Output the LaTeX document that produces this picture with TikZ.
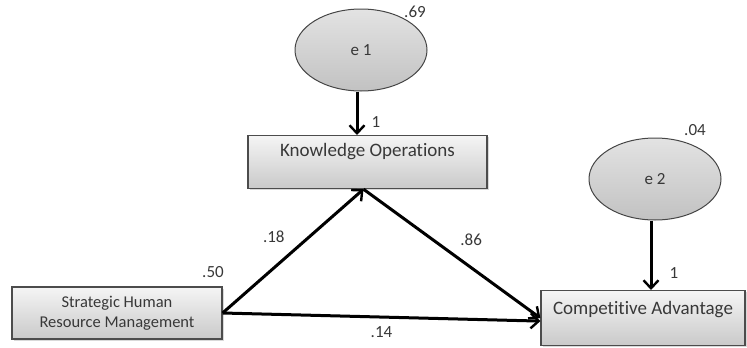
\documentclass[tikz,border=0pt]{standalone}
\usepackage{fontspec}
\setmainfont{Carlito}[Ligatures=CommonOff]
\usetikzlibrary{arrows.meta,shadows,shapes.geometric}
\definecolor{mytext}{rgb}{0.22,0.22,0.22}
\tikzset{
  varbox/.style={draw=gray!60!black, line width=1.2pt, top color=gray!8, bottom color=gray!42,
    inner sep=0pt, align=center, font=\fontsize{19}{20}\selectfont, text=mytext,
    drop shadow={shadow xshift=1.5pt, shadow yshift=-1.5pt, opacity=0.3}},
  errcircle/.style={ellipse, draw=gray!55!black, line width=1pt, top color=gray!22, bottom color=gray!48,
    minimum width=132pt, minimum height=82pt, inner sep=0pt, font=\fontsize{17}{18}\selectfont, text=mytext},
  pathline/.style={line width=3pt, -{Straight Barb[length=8pt,width=15pt,line width=2.4pt]}},
  coef/.style={font=\fontsize{17}{18}\selectfont, text=mytext, inner sep=1pt}
}
\begin{document}
\begin{tikzpicture}[x=1pt,y=-1pt]
    \useasboundingbox (0,0) rectangle (747,348);

    \node[errcircle] (e1) at (361,50) {e 1};
    \node[errcircle] (e2) at (655,179) {e 2};
    \node[varbox, minimum width=239pt, text height=21pt, text depth=32pt, anchor=north] (KO) at (367.5,135) {Knowledge Operations};
    \node[varbox, minimum width=204pt, text height=24pt, text depth=31pt, anchor=north] (CA) at (643,290) {Competitive Advantage};
    \node[varbox, minimum width=210pt, minimum height=52pt, font=\fontsize{16.5}{20}\selectfont] (SHRM) at (117,313) {Strategic Human\\Resource Management};

    \node[coef] (v69) at (415,12) {.69};
    \node[coef] (v04) at (695,130) {.04};
    \node[coef] (v50) at (213,272) {.50};

    \draw[pathline] (e1.south -| 357,0) -- (KO.north -| 357,0) node[coef, pos=0.7, right=12pt] {1};
    \draw[pathline] (e2.south -| 651,0) -- (CA.north -| 651,0) node[coef, pos=0.75, right=16pt] {1};
    \draw[pathline] (SHRM.east) -- ([xshift=-4pt]KO.south) node[coef, midway, above left=6pt] {.18};
    \draw[pathline] ([xshift=-4pt]KO.south) -- (CA.west) node[coef, midway, above right=6pt] {.86};
    \draw[pathline] (SHRM.east) -- ([yshift=-3pt]CA.west) node[coef, midway, below=7pt] {.14};
\end{tikzpicture}
\end{document}
